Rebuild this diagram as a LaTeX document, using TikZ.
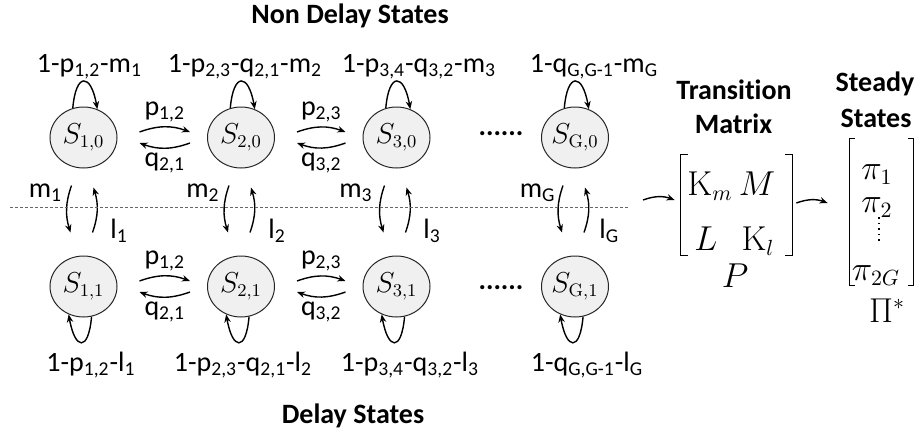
\documentclass[tikz,border=0pt]{standalone}
\usepackage[no-math]{fontspec}
\setmainfont[Ligatures=NoCommon]{Carlito}
\usetikzlibrary{arrows.meta,shapes.geometric}

\newcommand{\sbs}[1]{\textsubscript{#1}}

\tikzset{
  state/.style={ellipse,draw=black!85,fill=black!6,line width=0.5pt,
    minimum width=33.5pt,minimum height=30.5pt,inner sep=0pt,
    font=\fontsize{13.5}{15}\selectfont},
  lbl/.style={font=\fontsize{14}{16}\selectfont,inner sep=0pt},
  ttl/.style={font=\fontsize{14}{16}\selectfont\bfseries,inner sep=0pt},
  mth/.style={font=\fontsize{16}{18}\selectfont,inner sep=0pt},
  arr/.style={-{Stealth[length=4pt,width=3.2pt]},line width=0.7pt},
  brk/.style={line width=0.6pt},
  sep/.style={draw=black!60,line width=0.4pt,dash pattern=on 1.5pt off 1pt},
}

\begin{document}
\begin{tikzpicture}[x=0.5pt,y=-0.5pt]
\useasboundingbox (0,0) rectangle (921,434);

% states, self loops, row changes
\foreach \col/\x in {1/83.5,2/241,3/396.5,G/575}{
  \node[state] (S\col0) at (\x,137.5) {$S_{\mathrm{\col,0}}$};
  \node[state] (S\col1) at (\x,286.5) {$S_{\mathrm{\col,1}}$};
  \draw[arr] (S\col0.110) to[out=85,in=100,looseness=3.8] (S\col0.64);
  \draw[arr] (S\col1.285) to[out=-95,in=-80,looseness=4] (S\col1.242);
  \draw[arr] ([shift={(-12,17)}]S\col0.south) to[bend right=18] ([shift={(-13,-23)}]S\col1.north);
  \draw[arr] ([shift={(9,-23)}]S\col1.north) to[bend right=18] ([shift={(10,19)}]S\col0.south);
}

% moves between neighbours
\foreach \a/\b in {1/2,2/3}{
  \foreach \r in {0,1}{
    \draw[arr] ([shift={(22,-5.5)}]S\a\r.east) to[bend left=20]
      node[lbl,above=2pt] {p\sbs{\a,\b}} ([shift={(-17,-5.5)}]S\b\r.west);
    \draw[arr] ([shift={(-17,5.5)}]S\b\r.west) to[bend left=20]
      node[lbl,below=2pt] {q\sbs{\b,\a}} ([shift={(22,5.5)}]S\a\r.east);
  }
}

\node[ttl,anchor=base] (d0) at (501,135) {......};
\node[ttl,anchor=base] (d1) at (501,289) {......};

% loop labels
\node[lbl,anchor=base] (t1) at (89.5,72) {1-p\sbs{1,2}-m\sbs{1}};
\node[lbl,anchor=base] (t2) at (245,72) {1-p\sbs{2,3}-q\sbs{2,1}-m\sbs{2}};
\node[lbl,anchor=base] (t3) at (419,72) {1-p\sbs{3,4}-q\sbs{3,2}-m\sbs{3}};
\node[lbl,anchor=base] (tG) at (594,72) {1-q\sbs{G,G-1}-m\sbs{G}};
\node[lbl,anchor=base] (b1) at (91,371) {1-p\sbs{1,2}-l\sbs{1}};
\node[lbl,anchor=base] (b2) at (243,371) {1-p\sbs{2,3}-q\sbs{2,1}-l\sbs{2}};
\node[lbl,anchor=base] (b3) at (410,371) {1-p\sbs{3,4}-q\sbs{3,2}-l\sbs{3}};
\node[lbl,anchor=base] (bG) at (587,371) {1-q\sbs{G,G-1}-l\sbs{G}};

% row change labels
\node[lbl,anchor=base east] (m1) at (62.5,197) {m\sbs{1}};
\node[lbl,anchor=base east] (m2) at (220,197) {m\sbs{2}};
\node[lbl,anchor=base east] (m3) at (373,197) {m\sbs{3}};
\node[lbl,anchor=base east] (mG) at (556,197) {m\sbs{G}};
\node[lbl,anchor=base west] (l1) at (110,238) {l\sbs{1}};
\node[lbl,anchor=base west] (l2) at (268,238) {l\sbs{2}};
\node[lbl,anchor=base west] (l3) at (423,238) {l\sbs{3}};
\node[lbl,anchor=base west] (lG) at (599,238) {l\sbs{G}};

% titles
\node[ttl,anchor=base] (nd) at (350,23) {Non Delay States};
\node[ttl,anchor=base] (dl) at (353,423) {Delay States};
\node[ttl,anchor=base] (tr) at (734,99) {Transition};
\node[ttl,anchor=base] (tm) at (733.5,133) {Matrix};
\node[ttl,anchor=base] (st) at (875,91) {Steady};
\node[ttl,anchor=base] (ss) at (876,127) {States};

% separator
\coordinate (sepl) at (10,207);
\coordinate (sepr) at (630,207);
\draw[sep] (sepl) -- (sepr);

% transition matrix
\node[minimum width=55.5pt,minimum height=50pt,inner sep=0pt] (Pm) at (736.5,205) {};
\draw[brk] ([shift={(7,0)}]Pm.north west) -- (Pm.north west) -- (Pm.south west) -- ([shift={(7,0)}]Pm.south west);
\draw[brk] ([shift={(-7,0)}]Pm.north east) -- (Pm.north east) -- (Pm.south east) -- ([shift={(-7,0)}]Pm.south east);
\node[mth,anchor=base] (Km) at (710,195) {$\mathrm{K}_m$};
\node[mth,anchor=base] (Mm) at (757,195) {$M$};
\node[mth,anchor=base] (Lm) at (706,250) {$L$};
\node[mth,anchor=base] (Kl) at (758,250) {$\mathrm{K}_l$};
\node[mth,anchor=base] (Pn) at (735,287) {$P$};

% steady state vector
\node[minimum width=31.5pt,minimum height=73pt,inner sep=0pt] (Vm) at (881.5,212) {};
\draw[brk] ([shift={(5,0)}]Vm.north west) -- (Vm.north west) -- (Vm.south west) -- ([shift={(5,0)}]Vm.south west);
\draw[brk] ([shift={(-5,0)}]Vm.north east) -- (Vm.north east) -- (Vm.south east) -- ([shift={(-5,0)}]Vm.south east);
\node[mth,anchor=base] (p1) at (877,179) {$\pi_1$};
\node[mth,anchor=base] (p2) at (877,212) {$\pi_2$};
\node[mth,anchor=base] (p2G) at (876,280) {$\pi_{2G}$};
\node[mth,anchor=base] (Pi) at (887,322) {$\Pi^*$};
\draw[dotted,line width=0.8pt] ([shift={(-2.5,5)}]Vm.center) -- ([shift={(-2.5,30)}]Vm.center);

% flow
\draw[arr] ([shift={(13,-7)}]sepr) to[bend left=20] ([shift={(-6,-5)}]Pm.west);
\draw[arr] ([shift={(4,-2)}]Pm.east) to[bend left=20] ([shift={(-22,-9)}]Vm.west);
\end{tikzpicture}
\end{document}
